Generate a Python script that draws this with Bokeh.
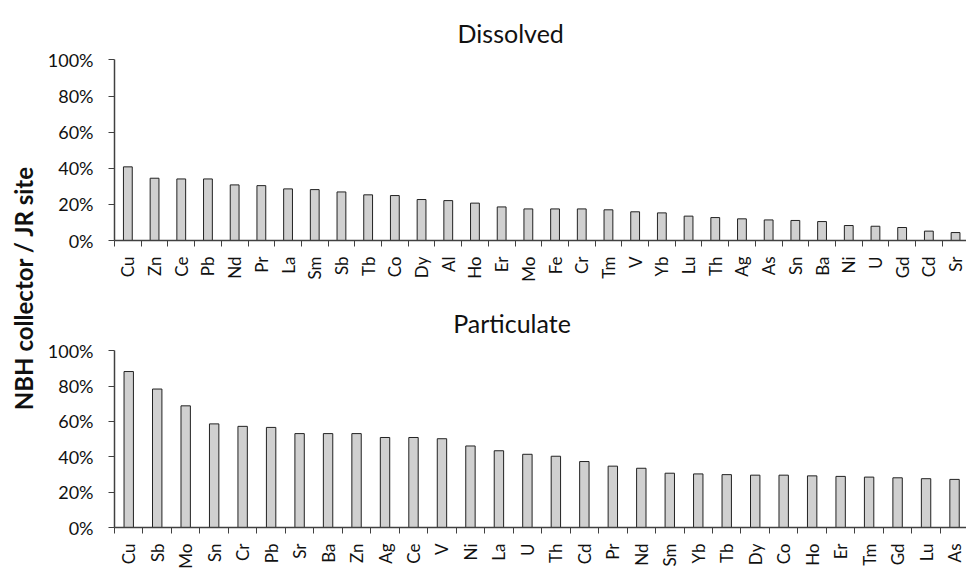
import math
from bokeh.plotting import figure
from bokeh.layouts import row, column
from bokeh.models import FixedTicker, NumeralTickFormatter, Label
from bokeh.core.properties import value
from bokeh.embed import file_html
from bokeh.resources import INLINE

dis_cats = ["Cu", "Zn", "Ce", "Pb", "Nd", "Pr", "La", "Sm", "Sb", "Tb", "Co", "Dy", "Al", "Ho", "Er", "Mo",
            "Fe", "Cr", "Tm", "V", "Yb", "Lu", "Th", "Ag", "As", "Sn", "Ba", "Ni", "U", "Gd", "Cd", "Sr"]
dis_vals = [0.408, 0.345, 0.341, 0.341, 0.308, 0.304, 0.286, 0.282, 0.269, 0.253, 0.249, 0.227, 0.221, 0.207,
            0.186, 0.175, 0.175, 0.175, 0.170, 0.159, 0.153, 0.135, 0.127, 0.120, 0.114, 0.111, 0.105, 0.083,
            0.079, 0.072, 0.052, 0.044]

par_cats = ["Cu", "Sb", "Mo", "Sn", "Cr", "Pb", "Sr", "Ba", "Zn", "Ag", "Ce", "V", "Ni", "La", "U", "Th", "Cd",
            "Pr", "Nd", "Sm", "Yb", "Tb", "Dy", "Co", "Ho", "Er", "Tm", "Gd", "Lu", "As"]
par_vals = [0.882, 0.783, 0.688, 0.586, 0.572, 0.566, 0.531, 0.531, 0.531, 0.509, 0.509, 0.502, 0.461, 0.434,
            0.414, 0.403, 0.373, 0.347, 0.335, 0.307, 0.303, 0.299, 0.296, 0.296, 0.292, 0.289, 0.285, 0.281,
            0.276, 0.272]

y_ticks = [0, 0.2, 0.4, 0.6, 0.8, 1.0]
y_label = "NBH collector / JR site"

FONT = "Lato"
TXT = "#111111"

TOTAL_W = 966
TOTAL_H = 571
LAB_W = 44


def make_panel(title, cats, vals, height, border_bottom, x_end, y_end, title_x, title_y):
    n = len(cats)
    p = figure(width=TOTAL_W - LAB_W, height=height, x_range=(-0.5, x_end), y_range=(0, y_end),
               toolbar_location=None, output_backend="svg",
               min_border_left=68, min_border_right=0,
               min_border_top=0, min_border_bottom=border_bottom)
    p.outline_line_color = None
    p.xgrid.visible = False
    p.ygrid.visible = False
    p.background_fill_color = "white"
    p.border_fill_color = "white"

    p.vbar(x=list(range(n)), top=vals, width=0.33, bottom=0,
           fill_color="#d0d0d0", line_color="#222222", line_width=1)

    xa = p.xaxis[0]
    xa.ticker = FixedTicker(ticks=list(range(n)), minor_ticks=[i - 0.5 for i in range(n + 1)])
    xa.major_label_overrides = {i: c for i, c in enumerate(cats)}
    xa.major_tick_line_color = None
    xa.major_tick_out = 6
    xa.major_tick_in = 0
    xa.minor_tick_line_color = "#404040"
    xa.minor_tick_out = 6
    xa.minor_tick_in = 0
    xa.axis_line_color = "#404040"
    xa.axis_line_width = 1.5
    xa.major_label_orientation = math.pi / 2
    xa.major_label_standoff = 10
    xa.major_label_text_font = FONT
    xa.major_label_text_font_size = "17px"
    xa.major_label_text_color = TXT

    ya = p.yaxis[0]
    ya.ticker = FixedTicker(ticks=y_ticks)
    ya.bounds = (0, 1.0)
    ya.formatter = NumeralTickFormatter(format="0%")
    ya.minor_tick_line_color = None
    ya.major_tick_out = 6
    ya.major_tick_in = 0
    ya.major_tick_line_color = "#404040"
    ya.axis_line_color = "#404040"
    ya.axis_line_width = 1.5
    ya.major_label_standoff = 15
    ya.major_label_text_font = FONT
    ya.major_label_text_font_size = "18px"
    ya.major_label_text_color = TXT

    p.add_layout(Label(x=title_x, y=title_y, text=title,
                       text_align="center", text_baseline="alphabetic",
                       text_font=FONT, text_font_size="25px", text_color=TXT))
    return p


# top panel: 0% at 240, 100% at 60 ; bottom panel: 0% at 533, 100% at 351.7
p1 = make_panel("Dissolved", dis_cats, dis_vals, 290, 50, 31.41, 1.3296, 14.34, 1.1507)
p2 = make_panel("Particulate", par_cats, par_vals, TOTAL_H - 290, 38, 29.42, 1.3403, 13.46, 1.1566)

lab = figure(width=LAB_W, height=TOTAL_H, x_range=(0, LAB_W), y_range=(0, TOTAL_H),
             toolbar_location=None, output_backend="svg",
             min_border=0, min_border_left=0, min_border_right=0, min_border_top=0, min_border_bottom=0)
lab.axis.visible = False
lab.xgrid.visible = False
lab.ygrid.visible = False
lab.outline_line_color = None
lab.text(x=[22.5], y=[TOTAL_H - 287.5], text=[y_label], angle=math.pi / 2,
         text_align="center", text_baseline="middle",
         text_font=value(FONT), text_font_style="bold", text_font_size="24px", text_color=TXT)

layout = row(lab, column(p1, p2))

open("out.html", "w").write(file_html(layout, INLINE))
